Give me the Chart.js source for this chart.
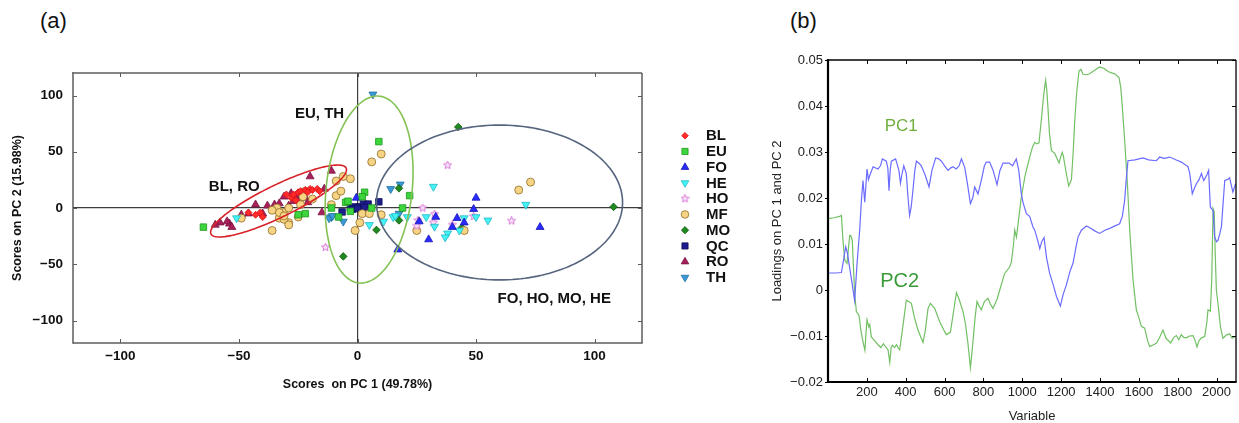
<!DOCTYPE html>
<html>
<head>
<meta charset="utf-8">
<script src="https://cdn.jsdelivr.net/npm/chart.js@4.4.1/dist/chart.umd.min.js"></script>
<style>
  html, body { margin: 0; padding: 0; background: #fff; }
  body { width: 1239px; height: 423px; position: relative; overflow: hidden;
         font-family: 'Liberation Sans', Arial, sans-serif; }
  #scoresChart   { position: absolute; left: 0;     top: 0; }
  #loadingsChart { position: absolute; left: 740px; top: 0; }
  .panel-tag { position: absolute; top: 10px; font-size: 22px; line-height: 22px; color: #111; }
</style>
</head>
<body>
<div class="panel-tag" style="left:40px">(a)</div>
<div class="panel-tag" style="left:790px">(b)</div>
<canvas id="scoresChart" width="760" height="423"></canvas>
<canvas id="loadingsChart" width="499" height="423"></canvas>

<script>
// ---- scores (PC1, PC2) per sample group ----
const GROUPS = ['BL', 'EU', 'FO', 'HE', 'HO', 'MF', 'MO', 'QC', 'RO', 'TH'];

const BL = [[-30,12],[-28,9],[-27,12],[-25,14],[-24,15],[-22,16],[-20,17],[-19,16],[-17,17],[-16,15],
            [-26,7],[-46,-4],[-43,-6],[-41,-4],[-40,-8],[-21,14]];
const EU = [[-65,-17],[9,59],[3,14],[2,10],[-5,5],[-3,-3],[-11,0],[-22,-5],[-25,-6],[6,0],[22,11],[19,0],
            [-8,-8],[-4,6]];
const FO = [[-0.5,9],[50,9],[49,-1],[77,-17],[26,-12],[33,-8],[30,-28],[17,-37],[42,-9],[40,-17],[45,-13]];
const HE = [[-51,-9],[32,19],[71,3],[11,-12],[5,-15],[15,-8],[21,-8],[29,-8],[32.5,-16.5],[38,-22.5],
            [37,-26],[43,-20],[45,-9],[50,-8],[55,-11],[16,-7]];
const HO = [[38,38],[27.5,0],[25.5,-11],[25,-16],[32.5,-5.5],[32,-13],[40,-15],[49,-7.5],[65,-11.5],
            [-13.5,-35]];
const MF = [[-49,-9],[-36,-20],[-34,0],[-33,-9],[-29,-13],[-31,-4],[-24,3],[-22,15],[-19,8],[-11,3],
            [-9,11],[-7,15],[-6,28],[-3,26],[-9,24],[6,41],[10,48],[2,-5],[5,-5],[1,-13],[-1,-20],
            [10,-6],[68,16],[73,23],[25,-20],[45,-20],[-33,-4],[-31,-10],[-29,-15],[-23,10],[-29,0],
            [-36,-2],[-25,-8],[-31,-7]];
const MO = [[42.5,72],[108,1],[17.5,17.5],[17.5,-11],[8,-19.5],[-6,-43],[44,-17.5]];
const QC = [[-6.5,-3.5],[-3,0],[-1,1],[1,1],[2.5,3.5],[4.5,3.5],[9,5.5],[-2,-1],[0,-0.5],[3,0.5]];
const RO = [[-11,33],[-20,28],[-22,9],[-14,17],[-43,3],[-35,3],[-29,2],[-40,-5],[-58,-13],[-54,-14],
            [-53,-17],[-26,11],[-24,9],[-21,5],[-15,-4],[-35,-1],[-38,2],[-46,-5],[-60,-15],[-31,10],
            [-33,4],[-28,13],[-49,-6],[-55,-12],[-27,6]];
const TH = [[6.5,101],[14,17],[18,21],[17.5,-5],[-11,-8],[-6,-12],[-12,-9],[-10.5,-7]];

const SCORE_TICKS = [-100, -50, 0, 50, 100];

// confidence ellipses: centre, then two half-axis vectors (data units)
const ELLIPSE_CENTRES = [[-33.3, 6.2], [4.9, 16.4], [59.9, 4.9]];
const ELLIPSE_U       = [[28.5, 29.3], [4.4, 83.0], [51.9, 0]];
const ELLIPSE_V       = [[2.95, -12.8], [18.0, -4.3], [0, 68.8]];
const CLUSTER_NAMES   = ['BL, RO', 'EU, TH', 'FO, HO, MO, HE'];
const CLUSTER_NAME_AT = [[-52, 18.6], [-16, 83.4], [83, -81]];

// ---- loadings: [variable, loading] ----
const PC1 = [[1,0.0037],[40,0.0037],[69,0.0038],[80,0.0065],[91,0.0094],[100,0.0080],[108,0.0058],
  [122,0.0020],[137,-0.0023],[150,0.0060],[163,0.013],[172,0.0195],[180,0.0238],[189,0.0191],
  [201,0.0263],[208,0.0240],[215,0.0249],[232,0.0268],[257,0.0263],[270,0.027],[280,0.0285],
  [300,0.028],[308,0.0265],[314,0.0216],[320,0.026],[326,0.028],[348,0.0285],[365,0.026],
  [373,0.0232],[380,0.025],[390,0.027],[403,0.0253],[412,0.020],[420,0.0162],[428,0.018],
  [437,0.0216],[447,0.026],[455,0.028],[470,0.0275],[480,0.027],[500,0.025],[520,0.0224],
  [535,0.026],[554,0.0287],[570,0.0285],[584,0.028],[600,0.027],[618,0.026],[630,0.0265],
  [643,0.0268],[660,0.0263],[675,0.027],[687,0.0285],[704,0.0266],[718,0.023],[733,0.0188],
  [745,0.020],[755,0.0224],[772,0.0209],[790,0.024],[805,0.027],[815,0.0278],[832,0.0278],
  [850,0.026],[870,0.0229],[885,0.026],[901,0.0276],[932,0.0276],[950,0.027],[969,0.0285],
  [982,0.026],[995,0.0209],[1004,0.019],[1021,0.0166],[1038,0.016],[1055,0.0137],[1064,0.013],
  [1078,0.011],[1090,0.009],[1100,0.0105],[1112,0.0114],[1125,0.007],[1141,0.0036],[1160,0.001],
  [1176,-0.0014],[1196,-0.0035],[1210,-0.001],[1227,0.0011],[1245,0.004],[1261,0.0058],
  [1275,0.009],[1287,0.0115],[1304,0.013],[1330,0.0139],[1350,0.0135],[1375,0.0128],[1398,0.0123],
  [1425,0.013],[1450,0.0134],[1480,0.014],[1501,0.0144],[1515,0.016],[1527,0.0195],[1535,0.024],
  [1544,0.0281],[1580,0.0283],[1621,0.0287],[1650,0.0283],[1690,0.0281],[1707,0.0289],
  [1730,0.0286],[1759,0.0289],[1790,0.0283],[1819,0.0278],[1840,0.0272],[1853,0.0268],
  [1862,0.0253],[1875,0.0209],[1885,0.022],[1896,0.0231],[1910,0.024],[1922,0.0253],
  [1934,0.0238],[1950,0.025],[1959,0.026],[1968,0.018],[1982,0.0173],[1990,0.0115],[2000,0.0105],
  [2007,0.0108],[2015,0.012],[2025,0.0137],[2042,0.0238],[2055,0.024],[2067,0.0244],[2084,0.0213],
  [2098,0.0231]];

const PC2 = [[1,0.0155],[30,0.0157],[60,0.016],[69,0.0162],[77,0.0108],[86,0.0065],[98,0.0058],
  [105,0.009],[112,0.0119],[118,0.0118],[125,0.0108],[131,0.005],[137,-0.0007],[146,-0.0047],
  [160,-0.0056],[170,-0.009],[180,-0.0112],[190,-0.0131],[196,-0.009],[201,-0.0065],[210,-0.008],
  [215,-0.0075],[223,-0.0102],[240,-0.011],[257,-0.0119],[272,-0.0125],[285,-0.0117],[300,-0.0125],
  [309,-0.013],[318,-0.0157],[325,-0.0125],[332,-0.012],[343,-0.0125],[352,-0.0119],[360,-0.0125],
  [369,-0.013],[385,-0.008],[403,-0.0022],[415,-0.0025],[429,-0.0029],[445,-0.006],[463,-0.0087],
  [489,-0.0114],[500,-0.009],[515,-0.004],[527,-0.0029],[549,-0.004],[575,-0.0069],[600,-0.009],
  [609,-0.0097],[630,-0.0092],[645,-0.005],[661,-0.0006],[675,-0.002],[695,-0.0047],[708,-0.0075],
  [720,-0.0115],[733,-0.0169],[740,-0.014],[747,-0.0108],[757,-0.006],[767,-0.0025],[778,-0.0035],
  [789,-0.0043],[805,-0.0025],[823,-0.0018],[835,-0.003],[849,-0.004],[870,-0.002],[884,0.0],
  [909,0.0036],[935,0.005],[944,0.0061],[955,0.010],[961,0.013],[970,0.0115],[983,0.016],
  [995,0.0202],[1015,0.025],[1038,0.0289],[1052,0.031],[1064,0.0321],[1075,0.0318],[1086,0.032],
  [1098,0.037],[1107,0.0411],[1115,0.044],[1120,0.0456],[1126,0.0435],[1132,0.0397],[1140,0.034],
  [1150,0.0303],[1167,0.0297],[1180,0.0285],[1189,0.0276],[1198,0.029],[1206,0.0299],[1212,0.029],
  [1218,0.0275],[1228,0.025],[1239,0.0226],[1253,0.024],[1262,0.030],[1270,0.0368],[1280,0.043],
  [1292,0.0476],[1302,0.048],[1312,0.0469],[1330,0.0468],[1347,0.047],[1370,0.0477],[1398,0.0485],
  [1420,0.0482],[1441,0.0475],[1460,0.0472],[1476,0.047],[1498,0.0462],[1507,0.044],[1515,0.0397],
  [1527,0.0325],[1541,0.0231],[1553,0.013],[1570,0.0022],[1587,-0.0043],[1600,-0.006],
  [1613,-0.0079],[1630,-0.0083],[1645,-0.011],[1656,-0.0123],[1670,-0.012],[1690,-0.0116],
  [1705,-0.0105],[1724,-0.0087],[1740,-0.0105],[1764,-0.0115],[1780,-0.0103],[1793,-0.0099],
  [1805,-0.0108],[1819,-0.0097],[1830,-0.0103],[1845,-0.0104],[1860,-0.01],[1879,-0.0099],
  [1890,-0.011],[1899,-0.0124],[1910,-0.011],[1922,-0.0104],[1939,-0.0101],[1950,-0.007],
  [1956,-0.0043],[1968,-0.0046],[1975,0.002],[1982,0.0177],[1988,0.017],[1993,0.008],[1999,0.0],
  [2010,-0.004],[2020,-0.008],[2033,-0.0105],[2050,-0.0098],[2067,-0.0095],[2080,-0.0105],
  [2098,-0.0101]];

const LOAD_X_TICKS = [200, 400, 600, 800, 1000, 1200, 1400, 1600, 1800, 2000];
const LOAD_Y_TICKS = [-0.02, -0.01, 0, 0.01, 0.02, 0.03, 0.04, 0.05];
const PC_NAMES   = ['PC1', 'PC2'];
const PC_NAME_AT = [[377, 0.0355], [369, 0.0019]];

const FONT = "'Liberation Sans', Arial, sans-serif";
const minus = s => String(s).replace('-', '\u2212');

// small outlined five-point star used for the HO samples
function starMarker(size, stroke, fill) {
  const c = document.createElement('canvas');
  c.width = c.height = size;
  const g = c.getContext('2d');
  g.beginPath();
  for (let i = 0; i < 10; i++) {
    const r = i % 2 ? size * 0.21 : size * 0.47;
    const a = -Math.PI / 2 + i * Math.PI / 5;
    g.lineTo(size / 2 + r * Math.cos(a), size / 2 + r * Math.sin(a));
  }
  g.closePath();
  g.fillStyle = fill;
  g.fill();
  g.strokeStyle = stroke;
  g.lineWidth = 1;
  g.stroke();
  return c;
}

const MARKERS = {
  BL: { pointStyle: 'rectRot',  rotation: 0,   radius: 3.5, bg: '#ff2a2a', border: '#e01010' },
  EU: { pointStyle: 'rect',     rotation: 0,   radius: 4.6, bg: '#3dd43d', border: '#1b9a1b' },
  FO: { pointStyle: 'triangle', rotation: 0,   radius: 4.6, bg: '#2a2aff', border: '#1515b0' },
  HE: { pointStyle: 'triangle', rotation: 180, radius: 4.6, bg: '#44f4f4', border: '#22b8c8' },
  HO: { pointStyle: starMarker(9, '#d877d8', '#f8e2f8'), rotation: 0, radius: 4.5, bg: '#f8e2f8', border: '#d877d8' },
  MF: { pointStyle: 'circle',   rotation: 0,   radius: 4,   bg: '#f7d483', border: '#8f6d2a' },
  MO: { pointStyle: 'rectRot',  rotation: 0,   radius: 3.8, bg: '#1f8a1f', border: '#0d560d' },
  QC: { pointStyle: 'rect',     rotation: 0,   radius: 4.6, bg: '#1d1d8e', border: '#10105a' },
  RO: { pointStyle: 'triangle', rotation: 0,   radius: 4.6, bg: '#a8205a', border: '#7a1040' },
  TH: { pointStyle: 'triangle', rotation: 180, radius: 4.6, bg: '#3a9ad6', border: '#1f6f9f' },
};
const SCORES = { BL, EU, FO, HE, HO, MF, MO, QC, RO, TH };
const ELLIPSE_COLORS = ['#d8232a', '#84c254', '#56647e'];

// frame around the plot area with inward tick marks
const framePlugin = {
  id: 'frame',
  afterDatasetsDraw(chart, args, o) {
    const { ctx, chartArea: a, scales: { x, y } } = chart;
    ctx.save();
    ctx.strokeStyle = o.color;
    ctx.lineWidth = 1;
    ctx.beginPath();
    x.ticks.forEach(t => {
      const px = Math.round(x.getPixelForValue(t.value)) + 0.5;
      ctx.moveTo(px, a.top); ctx.lineTo(px, a.top + o.tick);
      ctx.moveTo(px, a.bottom); ctx.lineTo(px, a.bottom - o.tick);
    });
    y.ticks.forEach(t => {
      const py = Math.round(y.getPixelForValue(t.value)) + 0.5;
      ctx.moveTo(a.right, py); ctx.lineTo(a.right - o.tick, py);
      ctx.moveTo(a.left - o.leftOut, py); ctx.lineTo(a.left + o.leftIn, py);
    });
    ctx.stroke();
    const side = (x1, y1, x2, y2, w) => {
      ctx.lineWidth = w;
      ctx.beginPath(); ctx.moveTo(x1, y1); ctx.lineTo(x2, y2); ctx.stroke();
    };
    side(a.left - o.heavy / 2, a.top, a.right, a.top, o.thin);
    side(a.right, a.top, a.right, a.bottom, o.thin);
    side(a.left, a.top - o.thin / 2, a.left, a.bottom + o.heavy / 2, o.heavy);
    side(a.left, a.bottom, a.right + o.thin / 2, a.bottom, o.heavy);
    ctx.restore();
  }
};

// ellipses, cluster names and the group legend for the scores plot
const scoresDecor = {
  id: 'scoresDecor',
  afterDatasetsDraw(chart) {
    const { ctx, chartArea: a, scales: { x, y } } = chart;
    ctx.save();
    ctx.beginPath();
    ctx.rect(a.left, a.top, a.right - a.left, a.bottom - a.top);
    ctx.clip();
    ELLIPSE_CENTRES.forEach((c, i) => {
      const u = ELLIPSE_U[i], v = ELLIPSE_V[i];
      ctx.beginPath();
      for (let k = 0; k <= 180; k++) {
        const t = k / 180 * Math.PI * 2;
        const px = x.getPixelForValue(c[0] + u[0] * Math.cos(t) + v[0] * Math.sin(t));
        const py = y.getPixelForValue(c[1] + u[1] * Math.cos(t) + v[1] * Math.sin(t));
        k ? ctx.lineTo(px, py) : ctx.moveTo(px, py);
      }
      ctx.closePath();
      ctx.strokeStyle = ELLIPSE_COLORS[i];
      ctx.lineWidth = 1.6;
      ctx.stroke();
    });
    ctx.fillStyle = '#111';
    ctx.font = `bold 15px ${FONT}`;
    ctx.textAlign = 'center';
    ctx.textBaseline = 'middle';
    CLUSTER_NAMES.forEach((name, i) => {
      const [cx, cy] = CLUSTER_NAME_AT[i];
      ctx.fillText(name, x.getPixelForValue(cx), y.getPixelForValue(cy));
    });
    ctx.restore();

    // legend column
    ctx.save();
    ctx.font = `bold 15px ${FONT}`;
    ctx.textAlign = 'left';
    ctx.textBaseline = 'middle';
    GROUPS.forEach((g, i) => {
      const m = MARKERS[g];
      const ly = 135.7 + i * 15.75;
      ctx.fillStyle = m.bg;
      ctx.strokeStyle = m.border;
      ctx.lineWidth = 0.8;
      Chart.helpers.drawPoint(ctx, { pointStyle: m.pointStyle, rotation: m.rotation,
        radius: m.radius * 0.95, borderWidth: 0.8 }, 685, ly);
      ctx.fillStyle = '#111';
      ctx.fillText(g, 706, ly + 0.5);
    });
    ctx.restore();
  }
};

new Chart(document.getElementById('scoresChart'), {
  type: 'scatter',
  data: {
    datasets: GROUPS.map(g => ({
      label: g,
      data: SCORES[g].map(([px, py]) => ({ x: px, y: py })),
      pointStyle: MARKERS[g].pointStyle,
      rotation: MARKERS[g].rotation,
      pointRadius: MARKERS[g].radius,
      backgroundColor: MARKERS[g].bg,
      borderColor: MARKERS[g].border,
      borderWidth: 0.8,
    })),
  },
  options: {
    responsive: false,
    animation: false,
    layout: { padding: { left: 0, right: 118, top: 73, bottom: 0 } },
    plugins: {
      legend: { display: false },
      tooltip: { enabled: false },
      frame: { color: '#5c5c5c', tick: 4, leftIn: 4, leftOut: 0, thin: 1.5, heavy: 1.5 },
    },
    scales: {
      x: {
        type: 'linear', min: -120, max: 120,
        afterFit: s => { s.height = 80; },
        afterBuildTicks: s => { s.ticks = SCORE_TICKS.map(v => ({ value: v })); },
        ticks: { padding: 5, color: '#111', maxRotation: 0, autoSkip: false,
                 font: { family: FONT, size: 13.5, weight: 'bold' }, callback: v => minus(v) },
        grid: { drawTicks: false, lineWidth: 1.2,
                color: c => (c.tick && c.tick.value === 0 ? '#3c3c3c' : 'rgba(0,0,0,0)') },
        border: { display: false },
        title: { display: true, text: 'Scores  on PC 1 (49.78%)', color: '#111',
                 font: { family: FONT, size: 12.5, weight: 'bold' }, padding: { top: 0, bottom: 30.5 } },
      },
      y: {
        type: 'linear', min: -120, max: 120,
        afterFit: s => { s.width = 73; },
        afterBuildTicks: s => { s.ticks = SCORE_TICKS.map(v => ({ value: v })); },
        ticks: { padding: 10, color: '#111', autoSkip: false,
                 font: { family: FONT, size: 13.5, weight: 'bold' }, callback: v => minus(v) },
        grid: { drawTicks: false, lineWidth: 1.2,
                color: c => (c.tick && c.tick.value === 0 ? '#3c3c3c' : 'rgba(0,0,0,0)') },
        border: { display: false },
        title: { display: true, text: 'Scores on PC 2 (15.98%)', color: '#111',
                 font: { family: FONT, size: 12.5, weight: 'bold' }, padding: { top: 10.5, bottom: 0 } },
      },
    },
  },
  plugins: [framePlugin, scoresDecor],
});

// PC1 / PC2 captions inside the loadings plot
const loadingsNames = {
  id: 'loadingsNames',
  afterDatasetsDraw(chart) {
    const { ctx, scales: { x, y } } = chart;
    const styles = [{ size: 17, color: '#6fae3c' }, { size: 20, color: '#3a9a3a' }];
    ctx.save();
    ctx.textAlign = 'center';
    ctx.textBaseline = 'middle';
    PC_NAMES.forEach((n, i) => {
      ctx.font = `${styles[i].size}px ${FONT}`;
      ctx.fillStyle = styles[i].color;
      ctx.fillText(n, x.getPixelForValue(PC_NAME_AT[i][0]), y.getPixelForValue(PC_NAME_AT[i][1]));
    });
    ctx.restore();
  }
};

const fmtLoading = v => (v === 0 ? '0' : minus(v.toFixed(2)));

new Chart(document.getElementById('loadingsChart'), {
  type: 'line',
  data: {
    datasets: [
      { label: 'PC1', data: PC1.map(([vx, vy]) => ({ x: vx, y: vy })),
        borderColor: '#6b6bff', borderWidth: 1.2, pointRadius: 0, tension: 0, fill: false },
      { label: 'PC2', data: PC2.map(([vx, vy]) => ({ x: vx, y: vy })),
        borderColor: '#72c064', borderWidth: 1.2, pointRadius: 0, tension: 0, fill: false },
    ],
  },
  options: {
    responsive: false,
    animation: false,
    layout: { padding: { left: 0, right: 3, top: 60, bottom: 0 } },
    plugins: {
      legend: { display: false },
      tooltip: { enabled: false },
      frame: { color: '#000', tick: 4, leftIn: 0, leftOut: 3, thin: 1.3, heavy: 2.2 },
    },
    scales: {
      x: {
        type: 'linear', min: 0, max: 2100,
        afterFit: s => { s.height = 41; },
        afterBuildTicks: s => { s.ticks = LOAD_X_TICKS.map(v => ({ value: v })); },
        ticks: { padding: 3, color: '#222', maxRotation: 0, autoSkip: false,
                 font: { family: FONT, size: 13 }, callback: v => String(v) },
        grid: { display: false, drawTicks: false },
        border: { display: false },
        title: { display: true, text: 'Variable', color: '#222',
                 font: { family: FONT, size: 13, lineHeight: 1 }, padding: { top: 0, bottom: 0 } },
      },
      y: {
        type: 'linear', min: -0.02, max: 0.05,
        afterFit: s => { s.width = 88; },
        afterBuildTicks: s => { s.ticks = LOAD_Y_TICKS.map(v => ({ value: v })); },
        ticks: { padding: 5, color: '#222', autoSkip: false,
                 font: { family: FONT, size: 13 }, callback: fmtLoading },
        grid: { display: false, drawTicks: false },
        border: { display: false },
        title: { display: true, text: 'Loadings on PC 1 and PC 2', color: '#222',
                 font: { family: FONT, size: 13 }, padding: { top: 30, bottom: 0 } },
      },
    },
  },
  plugins: [framePlugin, loadingsNames],
});
</script>
</body>
</html>
